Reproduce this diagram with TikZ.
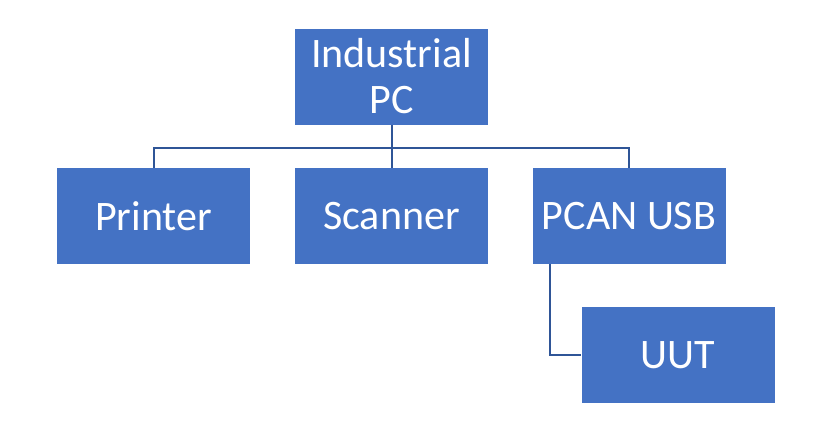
\documentclass[tikz,border=0pt]{standalone}
\usepackage{fontspec}
\setmainfont{Carlito}
\usepackage{xcolor}
\usepackage{tikz}
\definecolor{boxblue}{RGB}{68, 114, 196}
\definecolor{lineblue}{RGB}{47, 85, 151}
\usetikzlibrary{positioning, calc}

\begin{document}
\begin{tikzpicture}[x=1pt, y=-1pt,
    unitbox/.style={fill=boxblue, text=white, minimum width=193pt, minimum height=96pt,
          inner sep=0pt, align=center, font=\fontsize{42}{46}\selectfont},
    link/.style={draw=lineblue, line width=2pt}]
    \useasboundingbox (0,0) rectangle (820,440);
    \node[unitbox] (pc) at (391.5, 76.5) {Industrial\\PC};
    \node[unitbox] (printer) at (153.5, 216) {Printer};
    \node[unitbox] (scanner) at (391.5, 216) {Scanner};
    \node[unitbox] (pcan) at (629, 216) {PCAN USB};
    \node[unitbox] (uut) at (678, 355) {UUT};
    \coordinate (bus) at (391.5, 148);
    % tree links
    \draw[link] (pc.south) -- (bus) -| (printer.north);
    \draw[link] (bus) -- (scanner.north);
    \draw[link] (bus) -| (pcan.north);
    \draw[link] ([xshift=-79pt]pcan.south) |- (uut.west);
\end{tikzpicture}
\end{document}
